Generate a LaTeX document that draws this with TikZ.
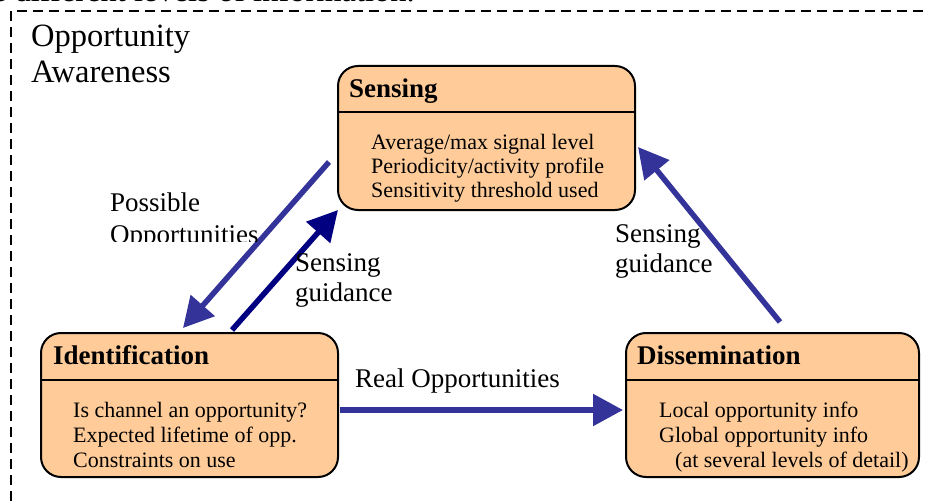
\documentclass[tikz,border=0pt]{standalone}
\usepackage{fontspec}
\setmainfont{Liberation Serif}
\usetikzlibrary{arrows.meta}
\definecolor{peach}{HTML}{FFCC99}
\definecolor{arrblue}{HTML}{333399}
\definecolor{navyblue}{HTML}{000080}
\begin{document}
\begin{tikzpicture}[x=1bp,y=-1bp,
  box/.style={draw=black, line width=2bp, fill=peach, rounded corners=20bp, inner sep=0pt, anchor=north west},
  divider/.style={line width=1.5bp},
  ttl/.style={anchor=base west, font=\fontsize{27bp}{30bp}\selectfont\bfseries, inner sep=0pt},
  body/.style={anchor=base west, font=\fontsize{22bp}{24.5bp}\selectfont, inner sep=0pt},
  lbl/.style={anchor=base west, font=\fontsize{27bp}{30bp}\selectfont, inner sep=0pt},
  big/.style={anchor=base west, font=\fontsize{32.5bp}{36bp}\selectfont, inner sep=0pt},
  arr/.style={line width=5.5bp, -{Triangle[length=30bp,width=31bp]}},
]
\useasboundingbox (0,0) rectangle (927,503);
\clip (0,0) rectangle (927,503);

% cut-off caption text at the top
\node[big, anchor=base east] (cap) at (415,1.5) {these different levels of information.};

% dashed frame (top and left sides visible)
\coordinate (fr1) at (923,11);
\coordinate (fr2) at (11,11);
\coordinate (fr3) at (11,520);
\draw[line width=2bp, dash pattern=on 10bp off 6bp] (fr1) -- (fr2) -- (fr3);

\node[big] (oa1) at (31,47) {Opportunity};
\node[big] (oa2) at (31,83) {Awareness};

% Sensing box
\node[box, minimum width=297bp, minimum height=144bp] (sens) at (337,65) {};
\draw[divider] (sens.west |- 0,112) -- (sens.east |- 0,112);
\node[ttl] (senst) at (349,98) {Sensing};
\node[body] (sens1) at (371,150) {Average/max signal level};
\node[body] (sens2) at (371,174) {Periodicity/activity profile};
\node[body] (sens3) at (371,198) {Sensitivity threshold used};

% Identification box
\node[box, minimum width=297bp, minimum height=144bp] (ident) at (40,332) {};
\draw[divider] (ident.west |- 0,380) -- (ident.east |- 0,380);
\node[ttl] (identt) at (53,365) {Identification};
\node[body] (ident1) at (73,417) {Is channel an opportunity?};
\node[body] (ident2) at (73,442) {Expected lifetime of opp.};
\node[body] (ident3) at (73,467) {Constraints on use};

% Dissemination box
\node[box, minimum width=293bp, minimum height=144bp] (diss) at (625,332) {};
\draw[divider] (diss.west |- 0,380) -- (diss.east |- 0,380);
\node[ttl] (disst) at (637,365) {Dissemination};
\node[body] (diss1) at (659,417) {Local opportunity info};
\node[body] (diss2) at (659,442) {Global opportunity info};
\node[body] (diss3) at (675,467) {(at several levels of detail)};

% arrows
\coordinate (po1) at (329,162);
\coordinate (po2) at (183,328);
\draw[arr, arrblue] (po1) -- (po2);

\coordinate (sg1) at (232,330);
\coordinate (sg2) at (338,210);
\draw[arr, navyblue] (sg1) -- (sg2);

\coordinate (ro1) at (340,410);
\coordinate (ro2) at (623,410);
\draw[arr, arrblue] (ro1) -- (ro2);

\coordinate (rg1) at (780,322);
\coordinate (rg2) at (638,147);
\draw[arr, arrblue] (rg1) -- (rg2);

% labels
\node[lbl] (pos1) at (110,212) {Possible};
\begin{scope}
  \clip (100,215) rectangle (280,242);
  \node[lbl] (pos2) at (110,244) {Opportunities};
\end{scope}
\node[lbl] (sgl1) at (295,272) {Sensing};
\node[lbl] (sgl2) at (295,302) {guidance};
\node[lbl] (sgr1) at (615,243) {Sensing};
\node[lbl] (sgr2) at (615,273) {guidance};
\node[lbl] (real) at (355,387) {Real Opportunities};
\end{tikzpicture}
\end{document}
